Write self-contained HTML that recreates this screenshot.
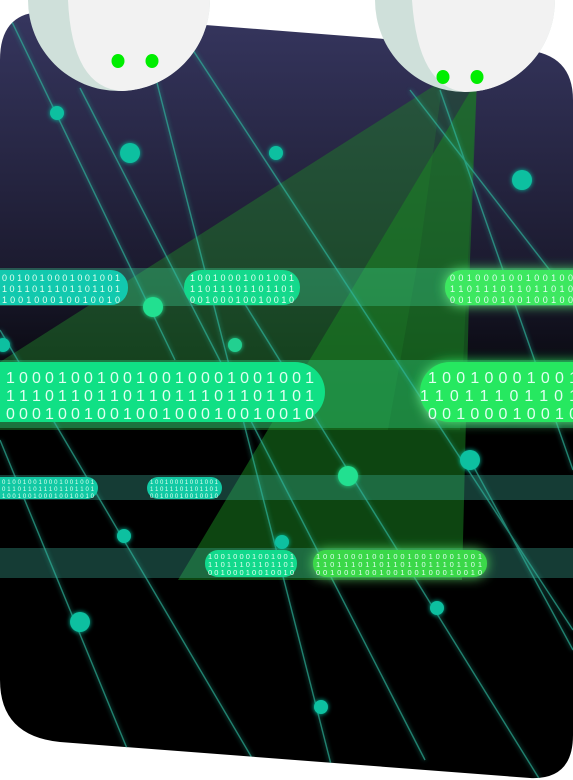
<!DOCTYPE html>
<html><head><meta charset="utf-8"><style>
html,body{margin:0;padding:0;background:#fff;width:573px;height:780px;overflow:hidden}
svg{display:block}
text{font-family:"Liberation Sans","DejaVu Sans",sans-serif;fill:#e0fff0}
</style></head><body>
<svg width="573" height="780" viewBox="0 0 573 780" xmlns="http://www.w3.org/2000/svg">
<defs>
<linearGradient id="bgg" gradientUnits="userSpaceOnUse" x1="0" y1="10" x2="0" y2="780">
<stop offset="0" stop-color="#36365f"/>
<stop offset="0.33" stop-color="#1c1b30"/>
<stop offset="0.48" stop-color="#08080e"/>
<stop offset="0.55" stop-color="#000"/>
<stop offset="1" stop-color="#000"/>
</linearGradient>
<filter id="glow" x="-50%" y="-50%" width="200%" height="200%"><feGaussianBlur stdDeviation="2.5" result="b"/><feMerge><feMergeNode in="b"/><feMergeNode in="SourceGraphic"/></feMerge></filter>
<filter id="glow2" x="-20%" y="-60%" width="140%" height="220%"><feGaussianBlur stdDeviation="6" result="b"/><feMerge><feMergeNode in="b"/><feMergeNode in="SourceGraphic"/></feMerge></filter>
<clipPath id="card"><path d="M0,60 Q0,14 40,12 L525,50 Q573,54 573,100 L573,735 Q573,780 530,778 L60,742 Q0,736 0,680 Z"/></clipPath>
</defs>
<path d="M0,60 Q0,14 40,12 L525,50 Q573,54 573,100 L573,735 Q573,780 530,778 L60,742 Q0,736 0,680 Z" fill="url(#bgg)"/>
<g clip-path="url(#card)">
  <g>
    <polygon points="443,80 0,362 0,430 388,430 420,250" fill="#1f7a2a" opacity="0.5"/>
    <polygon points="443,80 420,250 388,430 460,430 466,300 477,80" fill="#1b6e22" opacity="0.35"/>
    <polygon points="477,80 178,580 462,580 470,260" fill="#1a8a22" opacity="0.5"/>
  </g>
  <g>
    <rect x="0" y="268" width="573" height="38" fill="#3fd79a" opacity="0.33"/>
    <rect x="0" y="360" width="573" height="68" fill="#30d080" opacity="0.38"/>
    <rect x="0" y="475" width="573" height="25" fill="#3fb7a0" opacity="0.33"/>
    <rect x="0" y="548" width="573" height="30" fill="#3fb7a0" opacity="0.33"/>
  </g>
  <g stroke="#2fb9a0" stroke-width="1.4" fill="none" opacity="0.7" filter="url(#glow)">
    <line x1="12" y1="22" x2="175" y2="360"/>
    <line x1="80" y1="88" x2="425" y2="760"/>
    <line x1="155" y1="75" x2="335" y2="780"/>
    <line x1="185" y1="38" x2="573" y2="630"/>
    <line x1="410" y1="90" x2="573" y2="300"/>
    <line x1="440" y1="90" x2="573" y2="470"/>
    <line x1="230" y1="280" x2="540" y2="780"/>
    <line x1="0" y1="330" x2="265" y2="780"/>
    <line x1="0" y1="440" x2="140" y2="780"/>
    <line x1="470" y1="460" x2="573" y2="650"/>
  </g>
  <g fill="#10c0a0" filter="url(#glow)">
    <circle cx="57" cy="113" r="7"/>
    <circle cx="130" cy="153" r="10"/>
    <circle cx="276" cy="153" r="7"/>
    <circle cx="522" cy="180" r="10"/>
    <circle cx="153" cy="307" r="10" fill="#20e090"/>
    <circle cx="235" cy="345" r="7" fill="#20d090"/>
    <circle cx="3" cy="345" r="7"/>
    <circle cx="470" cy="460" r="10"/>
    <circle cx="348" cy="476" r="10" fill="#20e090"/>
    <circle cx="124" cy="536" r="7"/>
    <circle cx="282" cy="542" r="7"/>
    <circle cx="437" cy="608" r="7"/>
    <circle cx="80" cy="622" r="10"/>
    <circle cx="321" cy="707" r="7"/>
  </g>
  <g>
    <g>
      <rect x="-20" y="270" width="148" height="35" rx="17" fill="#12c9ae"/>
      <text x="2" y="281" font-size="9" textLength="118">0 0 1 0 0 1 0 0 0 1 0 0 1 0 0 1</text>
      <text x="2" y="292" font-size="9" textLength="118">1 0 1 1 0 1 1 1 0 1 1 0 1 1 0 1</text>
      <text x="2" y="303" font-size="9" textLength="118">1 0 0 1 0 0 0 1 0 0 1 0 0 1 0</text>
    </g>
    <g>
      <rect x="184" y="270" width="116" height="35" rx="17" fill="#14d98c"/>
      <text x="190" y="281" font-size="9" textLength="104">1 0 0 1 0 0 0 1 0 0 1 0 0 1</text>
      <text x="190" y="292" font-size="9" textLength="104">1 1 0 1 1 1 0 1 1 0 1 1 0 1</text>
      <text x="190" y="303" font-size="9" textLength="104">0 0 1 0 0 0 1 0 0 1 0 0 1 0</text>
    </g>
    <g filter="url(#glow2)">
      <rect x="445" y="270" width="150" height="35" rx="17" fill="#3ee860"/>
      <text x="450" y="281" font-size="9" textLength="123">0 0 1 0 0 0 1 0 0 1 0 0 1 0 0</text>
      <text x="450" y="292" font-size="9" textLength="123">1 1 0 1 1 1 0 1 1 0 1 1 0 1 0</text>
      <text x="450" y="303" font-size="9" textLength="123">0 0 1 0 0 0 1 0 0 1 0 0 1 0 0</text>
    </g>
    <g>
      <rect x="-30" y="362" width="355" height="60" rx="30" fill="#10e085"/>
      <text x="6" y="383" font-size="16" textLength="308">1 0 0 0 1 0 0 1 0 0 1 0 0 1 0 0 0 1 0 0 1 0 0 1</text>
      <text x="6" y="401" font-size="16" textLength="308">1 1 1 0 1 1 0 1 1 0 1 1 0 1 1 1 0 1 1 0 1 1 0 1</text>
      <text x="6" y="419" font-size="16" textLength="308">0 0 0 1 0 0 1 0 0 1 0 0 1 0 0 0 1 0 0 1 0 0 1 0</text>
    </g>
    <g filter="url(#glow2)">
      <rect x="420" y="362" width="190" height="60" rx="30" fill="#28e860"/>
      <text x="428" y="383" font-size="16" textLength="150">1 0 0 1 0 0 0 1 0 0 1</text>
      <text x="420" y="401" font-size="16" textLength="158">1 1 0 1 1 1 0 1 1 0 1</text>
      <text x="428" y="419" font-size="16" textLength="150">0 0 1 0 0 0 1 0 0 1 0</text>
    </g>
    <g>
      <rect x="-15" y="477" width="113" height="22" rx="11" fill="#12c9a4"/>
      <text x="2" y="484" font-size="6" textLength="92">0 1 0 0 1 0 0 1 0 0 0 1 0 0 1 0 0 1</text>
      <text x="2" y="491" font-size="6" textLength="92">0 1 1 0 1 1 0 1 1 1 0 1 1 0 1 1 0 1</text>
      <text x="2" y="498" font-size="6" textLength="92">1 0 0 1 0 0 1 0 0 0 1 0 0 1 0 0 1 0</text>
    </g>
    <g>
      <rect x="147" y="477" width="75" height="22" rx="11" fill="#12c9a4"/>
      <text x="150" y="484" font-size="6" textLength="68">1 0 0 1 0 0 0 1 0 0 1 0 0 1</text>
      <text x="150" y="491" font-size="6" textLength="68">1 1 0 1 1 1 0 1 1 0 1 1 0 1</text>
      <text x="150" y="498" font-size="6" textLength="68">0 0 1 0 0 0 1 0 0 1 0 0 1 0</text>
    </g>
    <g>
      <rect x="205" y="550" width="92" height="27" rx="13" fill="#12d98c"/>
      <text x="208" y="559" font-size="7.5" textLength="86">1 0 0 1 0 0 0 1 0 0 1 0 0 1</text>
      <text x="208" y="567" font-size="7.5" textLength="86">1 1 0 1 1 1 0 1 1 0 1 1 0 1</text>
      <text x="208" y="575" font-size="7.5" textLength="86">0 0 1 0 0 0 1 0 0 1 0 0 1 0</text>
    </g>
    <g filter="url(#glow2)">
      <rect x="313" y="550" width="174" height="27" rx="13" fill="#3ad848"/>
      <text x="316" y="559" font-size="7.5" textLength="166">1 0 0 1 0 0 0 1 0 0 1 0 0 1 0 0 1 0 0 0 1 0 0 1</text>
      <text x="316" y="567" font-size="7.5" textLength="166">1 1 0 1 1 1 0 1 1 0 1 1 0 1 1 0 1 1 1 0 1 1 0 1</text>
      <text x="316" y="575" font-size="7.5" textLength="166">0 0 1 0 0 0 1 0 0 1 0 0 1 0 0 1 0 0 0 1 0 0 1 0</text>
    </g>
  </g>
</g>
<g>
  <path d="M28,0 A91,91 0 0 0 210,0 Z" fill="#cfe0da"/>
  <path d="M68,0 Q72,88 122,91 A91,91 0 0 0 210,0 Z" fill="#f2f2f2"/>
  <ellipse cx="118" cy="61" rx="6.5" ry="7" fill="#00ee00"/>
  <ellipse cx="152" cy="61" rx="6.5" ry="7" fill="#00ee00"/>
</g>
<g>
  <path d="M375,0 A90,92 0 0 0 555,0 Z" fill="#cfe0da"/>
  <path d="M412,0 Q418,88 465,92 A90,92 0 0 0 555,0 Z" fill="#f2f2f2"/>
  <ellipse cx="443" cy="77" rx="6.5" ry="7" fill="#00ee00"/>
  <ellipse cx="477" cy="77" rx="6.5" ry="7" fill="#00ee00"/>
</g>
</svg>
</body></html>
